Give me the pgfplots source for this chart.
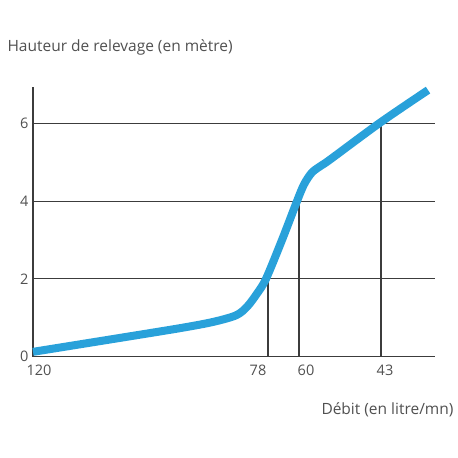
\documentclass[border=0pt]{standalone}
\usepackage{pgfplots}
\pgfplotsset{compat=1.18}
\usepackage{fontspec}
\setmainfont{Open Sans}
\definecolor{curve}{RGB}{41,161,218}
\definecolor{gridc}{RGB}{60,60,60}
\definecolor{txt}{RGB}{80,80,80}
\begin{document}
\begin{tikzpicture}
\useasboundingbox (-33pt,-101.5pt) rectangle (425pt,356.5pt);
\begin{axis}[
  at={(0,0)}, anchor=south west,
  scale only axis, width=402pt, height=269.5pt,
  xmin=0, xmax=402, ymin=0, ymax=6.94,
  axis x line=bottom, axis y line=left,
  axis line style={gridc, line width=1.2pt, -},
  ytick={0,2,4,6}, yticklabels={0,2,4,6},
  xtick={6,225,273,352}, xticklabels={120,78,60,43},
  major tick length=0pt,
  ymajorgrids, grid style={gridc, line width=1.2pt},
  yticklabel style={font=\fontsize{14.5}{16}\selectfont, text=txt, xshift=-1pt},
  xticklabel style={font=\fontsize{14.5}{16}\selectfont, text=txt, yshift=-5pt},
  /pgf/number format/assume math mode=true,
  clip=false,
]
\addplot[gridc, line width=1.3pt] coordinates {(235,0) (235,2)};
\addplot[gridc, line width=1.3pt] coordinates {(266,0) (266,4)};
\addplot[gridc, line width=1.3pt] coordinates {(348,0) (348,6)};
\addplot[curve, line width=8pt, smooth, tension=0.5] coordinates {
(0,0.12) (80,0.45) (147,0.73) (180,0.89) (203,1.06) (214,1.28) (224,1.62) (233,2.0) (249,3.0) (264,4.0) (271,4.43) (279,4.74) (289,4.93) (297,5.07) (347,6.02) (395,6.86)
};
\end{axis}
\node[anchor=west, text=txt, font=\fontsize{15.5}{18}\selectfont] at (-29pt,309.5pt) {Hauteur de relevage (en mètre)};
\node[anchor=east, text=txt, font=\fontsize{15.5}{18}\selectfont] at (424pt,-53.5pt) {Débit (en litre/mn)};
\end{tikzpicture}
\end{document}
